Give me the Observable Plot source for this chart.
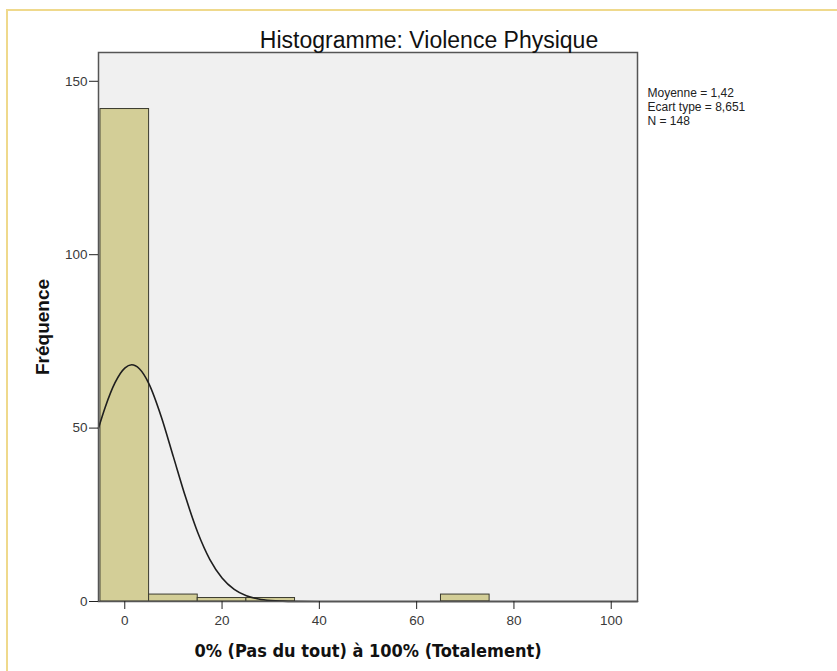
<!DOCTYPE html>
<html>
<head>
<meta charset="utf-8">
<script src="https://cdn.jsdelivr.net/npm/d3@7"></script>
<script src="https://cdn.jsdelivr.net/npm/@observablehq/plot@0.6"></script>
<style>
  html, body { margin: 0; padding: 0; background: #ffffff; }
  #wrap { position: relative; width: 837px; height: 671px; overflow: hidden; }
  #border { position: absolute; left: 6px; top: 9px; width: 900px; height: 800px;
            border: 2px solid #efd98c; box-sizing: border-box; pointer-events: none; }
  #chart { position: absolute; left: 0; top: 0; }
</style>
</head>
<body>
<div id="wrap"><div id="border"></div><div id="chart"></div></div>
<script>
// ---- data ----
const binStart = [-5, 5, 15, 25, 65];
const binEnd   = [5, 15, 25, 35, 75];
const counts   = [142, 2, 1, 1, 2];

// fitted normal curve (frequency scale)
const curveX = [-5.4, -4, -2, 0, 1.42, 3, 5, 7.5, 10, 12.5, 15, 17.5, 20, 22.5, 25, 27.5, 30, 32.5, 35, 40, 60, 80, 105.4];
const curveY = [50.0, 56.1, 63.1, 67.3, 68.25, 67.1, 62.7, 53.3, 41.7, 30.1, 19.9, 12.1, 6.8, 3.5, 1.66, 0.73, 0.29, 0.11, 0.04, 0, 0, 0, 0];

const xTicks = [0, 20, 40, 60, 80, 100];
const yTicks = [0, 50, 100, 150];
const xDomain = [-5.4, 105.4];
const yDomain = [0, 158.3];

const titleText = "Histogramme: Violence Physique";
const xLabel = "0% (Pas du tout) à 100% (Totalement)";
const yLabel = "Fréquence";
const statsLines = ["Moyenne = 1,42", "Ecart type = 8,651", "N = 148"];

// ---- tables ----
const bins = binStart.map((s, i) => ({x1: s, x2: binEnd[i], count: counts[i]}));
const curve = curveX.map((x, i) => ({x, y: curveY[i]}));

const chart = Plot.plot({
  width: 837,
  height: 671,
  marginLeft: 98,
  marginRight: 200,
  marginTop: 52,
  marginBottom: 70,
  x: {domain: xDomain},
  y: {domain: yDomain},
  style: {fontFamily: "'Liberation Sans', Arial, sans-serif", fontSize: "13px", color: "#222", background: "transparent"},
  marks: [
    Plot.frame({fill: "#f0f0f0", stroke: null}),
    Plot.rect(bins, {x1: "x1", x2: "x2", y1: 0, y2: "count", fill: "#d3ce97", stroke: "#3a3a2e", strokeWidth: 1}),
    Plot.line(curve, {x: "x", y: "y", curve: "monotone-x", stroke: "#1e1e1e", strokeWidth: 1.6}),
    Plot.frame({stroke: "#555", strokeWidth: 1.5}),
    Plot.axisX({ticks: xTicks, tickSize: 8, tickPadding: 6, label: null, stroke: "#222", fill: "#3a3a3a", fontSize: 13.5}),
    Plot.axisY({ticks: yTicks, tickSize: 9, tickPadding: 2, label: null, stroke: "#222", fill: "#3a3a3a", fontSize: 13.5}),
    Plot.text([titleText], {frameAnchor: "top", lineAnchor: "middle", dx: 61, dy: -12, fontSize: 23, fill: "#111"}),
    Plot.text([xLabel], {frameAnchor: "bottom", lineAnchor: "middle", dy: 50, fontSize: 18, fontWeight: "bold",
      fontFamily: "'DejaVu Sans Condensed', 'DejaVu Sans', Verdana, sans-serif", fill: "#111"}),
    Plot.text([yLabel], {frameAnchor: "left", textAnchor: "middle", lineAnchor: "middle", dx: -56, rotate: -90, fontSize: 19, fontWeight: "bold", fill: "#111"}),
    Plot.text([statsLines.join("\n")], {frameAnchor: "top-right", dx: 10, dy: 35, textAnchor: "start", lineAnchor: "top", lineHeight: 1.15, fontSize: 12, fill: "#222"})
  ]
});
document.getElementById("chart").appendChild(chart);
</script>
</body>
</html>
